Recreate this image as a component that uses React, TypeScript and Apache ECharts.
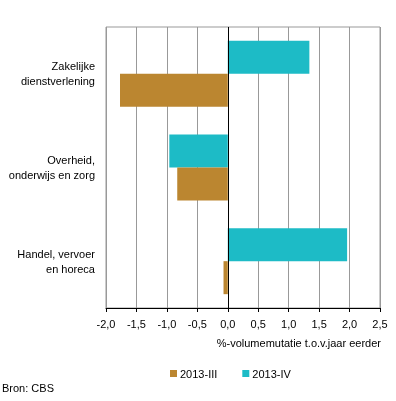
import React, { useEffect, useRef } from "react";
import * as echarts from "echarts";

const categories = ["Zakelijke\ndienstverlening", "Overheid,\nonderwijs en zorg", "Handel, vervoer\nen horeca"];
const seriesNames = ["2013-III", "2013-IV"];
const valuesIII = [-1.77, -0.83, -0.07];
const valuesIV = [1.34, -0.96, 1.96];
const xTicks = { min: -2, max: 2.5, interval: 0.5 };
const xTitle = "%-volumemutatie t.o.v.jaar eerder";
const source = "Bron: CBS";

const BROWN = "#BB8630";
const TEAL = "#1DBBC6";
const FONT = "Liberation Sans, Arial, sans-serif";

export default function App() {
  const ref = useRef<HTMLDivElement>(null);
  useEffect(() => {
    if (!ref.current) return;
    const chart = echarts.init(ref.current, undefined, { renderer: "svg" });
    chart.setOption({
      animation: false,
      textStyle: { fontFamily: FONT },
      grid: { left: 106, width: 274, top: 27, bottom: 93, show: true, borderColor: "#999", borderWidth: 1 },
      xAxis: {
        type: "value",
        min: xTicks.min,
        max: xTicks.max,
        interval: xTicks.interval,
        axisLine: { show: true, lineStyle: { color: "#000", width: 1 } },
        axisTick: { show: true, length: 4, lineStyle: { color: "#000" } },
        splitLine: { show: true, lineStyle: { color: "#999", width: 1 } },
        axisLabel: {
          margin: 10,
          color: "#000",
          fontSize: 11,
          fontFamily: FONT,
          formatter: (v: number) => {
            const r = Math.round(Number(v) * 10) / 10;
            return (Math.abs(r) < 1e-9 ? 0 : r).toFixed(1).replace(".", ",");
          },
        },
      },
      yAxis: {
        type: "category",
        data: categories,
        inverse: true,
        axisLine: { show: false },
        axisTick: { show: false },
        axisLabel: { margin: 11, color: "#000", fontSize: 11, lineHeight: 15, fontFamily: FONT, align: "right" },
      },
      legend: {
        data: seriesNames,
        left: 170,
        top: 368,
        icon: "rect",
        itemWidth: 7,
        itemHeight: 7,
        itemGap: 25,
        padding: 0,
        textStyle: { fontSize: 11, color: "#000", fontFamily: FONT, padding: [0, 0, 0, -2] },
      },
      series: [
        {
          name: seriesNames[1],
          type: "bar",
          data: valuesIV,
          itemStyle: { color: TEAL },
          barGap: "0%",
          barCategoryGap: "29.5%",
        },
        {
          name: seriesNames[0],
          type: "bar",
          data: valuesIII,
          itemStyle: { color: BROWN },
          barGap: "0%",
          barCategoryGap: "29.5%",
          markLine: {
            silent: true,
            symbol: "none",
            label: { show: false },
            lineStyle: { color: "#000", width: 1, type: "solid" },
            data: [{ xAxis: 0 }],
          },
        },
      ],
      graphic: [
        {
          type: "text",
          right: 15,
          top: 337,
          style: { text: xTitle, fontSize: 11, fill: "#000", fontFamily: FONT },
        },
        {
          type: "text",
          left: 2,
          top: 382,
          style: { text: source, fontSize: 11, fill: "#000", fontFamily: FONT },
        },
      ],
    });
    return () => chart.dispose();
  }, []);
  return <div ref={ref} style={{ position: "fixed", left: 0, top: 0, width: 396, height: 401 }} />;
}
